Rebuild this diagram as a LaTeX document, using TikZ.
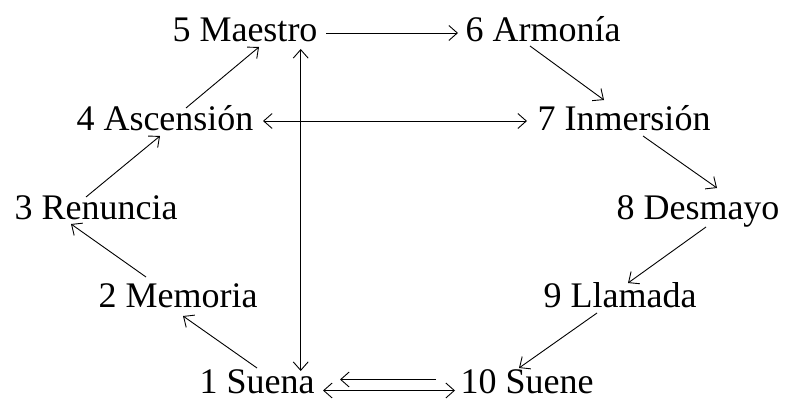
\documentclass[tikz,border=0pt]{standalone}
\usepackage{fontspec}
\setmainfont{Liberation Serif}
\usetikzlibrary{arrows.meta}
\begin{document}
\begin{tikzpicture}[x=1pt,y=-1pt,
  lbl/.style={anchor=base,inner sep=0pt,font=\fontsize{36}{40}\selectfont},
  arr/.style={line width=0.9pt,-{Straight Barb[length=8.5pt,width=15pt,line width=0.9pt]}},
  darr/.style={line width=0.9pt,{Straight Barb[length=8.5pt,width=15pt,line width=0.9pt]}-{Straight Barb[length=8.5pt,width=15pt,line width=0.9pt]}}]
\useasboundingbox (0,0) rectangle (786,401);
\node[lbl] (n1) at (257,393) {1 Suena};
\node[lbl] (n2) at (178,307) {2 Memoria};
\node[lbl] (n3) at (96,219) {3 Renuncia};
\node[lbl] (n4) at (165,130.5) {4 Ascensión};
\node[lbl] (n5) at (245,42) {5 Maestro};
\node[lbl] (n6) at (543,42) {6 Armonía};
\node[lbl] (n7) at (624,130.5) {7 Inmersión};
\node[lbl] (n8) at (698,219) {8 Desmayo};
\node[lbl] (n9) at (620,307) {9 Llamada};
\node[lbl] (n10) at (527,393) {10 Suene};
% cycle
\draw[arr] ([shift={(81,-9)}]n5.base) -- ([shift={(-85,-9)}]n6.base);
\draw[arr] ([shift={(-13,4)}]n6.base) -- ([shift={(-20,-30.5)}]n7.base);
\draw[arr] ([shift={(19,5.5)}]n7.base) -- ([shift={(19,-31)}]n8.base);
\draw[arr] ([shift={(8,8)}]n8.base) -- ([shift={(8,-24)}]n9.base);
\draw[arr] ([shift={(-23,6)}]n9.base) -- ([shift={(-8,-25)}]n10.base);
\draw[arr] ([shift={(0,-25)}]n1.base) -- ([shift={(5,9)}]n2.base);
\draw[arr] ([shift={(-32,-30)}]n2.base) -- ([shift={(-25,5)}]n3.base);
\draw[arr] ([shift={(-10,-22)}]n3.base) -- ([shift={(-5,5.5)}]n4.base);
\draw[arr] ([shift={(21,-22.5)}]n4.base) -- ([shift={(14,5)}]n5.base);
% cross links
\draw[darr] ([shift={(55.7,7)}]n5.base) -- ([shift={(43.7,-22)}]n1.base);
\draw[darr] ([shift={(98,-9.5)}]n4.base) -- ([shift={(-97,-9.5)}]n7.base);
\draw[arr] ([shift={(-91,-13.5)}]n10.base) -- ([shift={(83,-13.5)}]n1.base);
\draw[darr] ([shift={(66,-2.5)}]n1.base) -- ([shift={(-72,-2.5)}]n10.base);
\end{tikzpicture}
\end{document}
